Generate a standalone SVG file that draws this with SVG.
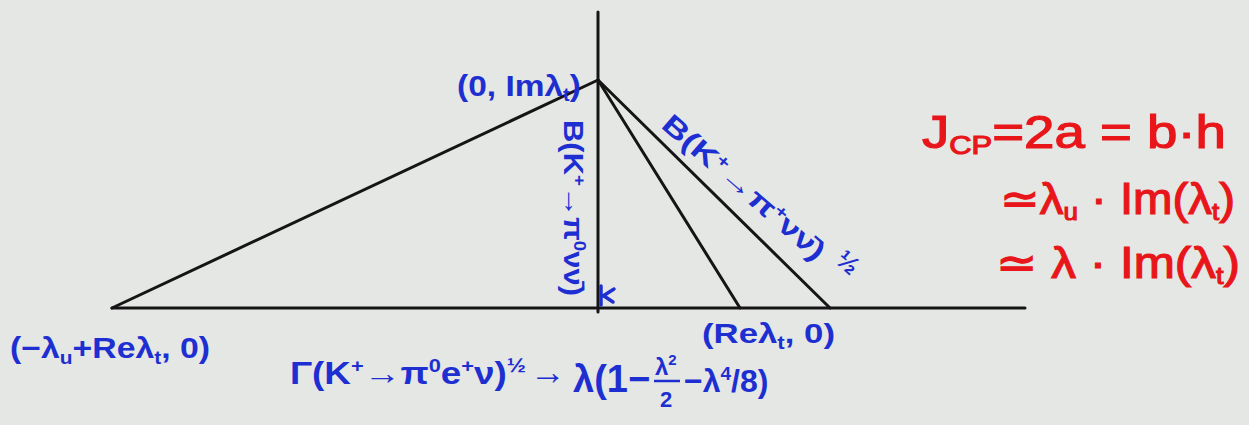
<svg xmlns="http://www.w3.org/2000/svg" width="1249" height="425" viewBox="0 0 1249 425">
<style>
.ln{stroke:#151515;stroke-width:3;fill:none;stroke-linecap:round}
.b{fill:#1e2fd2;font-family:"Liberation Sans",Arial,sans-serif;font-weight:bold}
.r{fill:#e8161a;stroke:#e8161a;stroke-width:1.2;font-family:"Liberation Sans",Arial,sans-serif}
</style>
<rect width="1249" height="425" fill="#e5e7e4"/>
<g id="axes">
<line class="ln" x1="598" y1="12" x2="598" y2="312"/>
<line class="ln" x1="112" y1="308" x2="1025" y2="308"/>
</g>
<g id="triangle">
<line class="ln" x1="598" y1="80" x2="112" y2="308"/>
<line class="ln" x1="598" y1="80" x2="740" y2="308"/>
<line class="ln" x1="598" y1="80" x2="830" y2="308"/>
</g>
<g id="angle-mark">
<path d="M601 286 L601 305 M603 296 L614 289 M604 296 L613 302" stroke="#1e2fd2" stroke-width="3.5" fill="none" stroke-linecap="round"/>
</g>
<g id="apex-label">
<text class="b" x="457" y="96" font-size="30" textLength="124" lengthAdjust="spacingAndGlyphs">(0, Imλ<tspan font-size="18" dy="5">t</tspan><tspan dy="-5">)</tspan></text>
</g>
<g id="left-label">
<text class="b" x="10" y="358" font-size="29" textLength="200" lengthAdjust="spacingAndGlyphs">(−λ<tspan font-size="18" dy="6">u</tspan><tspan dy="-6">+Reλ</tspan><tspan font-size="18" dy="6">t</tspan><tspan dy="-6">, 0)</tspan></text>
</g>
<g id="right-label">
<text class="b" x="702" y="343" font-size="28" textLength="133" lengthAdjust="spacingAndGlyphs">(Reλ<tspan font-size="18" dy="6">t</tspan><tspan dy="-6">, 0)</tspan></text>
</g>
<g id="vertical-label">
<text class="b" transform="translate(564,120) rotate(90)" x="0" y="0" font-size="28" textLength="176" lengthAdjust="spacingAndGlyphs">B(K<tspan font-size="17" dy="-10">+</tspan><tspan dy="10">→π</tspan><tspan font-size="17" dy="-10">0</tspan><tspan dy="10">νν̄)</tspan></text>
</g>
<g id="diagonal-label">
<text class="b" transform="translate(660,127) rotate(41)" x="0" y="0" font-size="28" textLength="206" lengthAdjust="spacingAndGlyphs">B(K<tspan font-size="17" dy="-10">+</tspan><tspan dy="10">→π</tspan><tspan font-size="17" dy="-10">+</tspan><tspan dy="10">νν̄)</tspan></text>
<text class="b" transform="translate(834,262) rotate(41)" x="0" y="0" font-size="26">½</text>
</g>
<g id="width-formula">
<text class="b" x="290" y="384" font-size="32" textLength="236" lengthAdjust="spacingAndGlyphs">Γ(K<tspan font-size="19" dy="-12">+</tspan><tspan dy="12">→π</tspan><tspan font-size="19" dy="-12">0</tspan><tspan dy="12">e</tspan><tspan font-size="19" dy="-12">+</tspan><tspan dy="12">ν)</tspan><tspan font-size="20" dy="-12">½</tspan></text>
<text class="b" x="530" y="384" font-size="36">→</text>
<text class="b" x="573" y="392" font-size="38">λ(1−</text>
<text class="b" x="655" y="375" font-size="24">λ<tspan font-size="15" dy="-10">2</tspan></text>
<line x1="654" y1="381" x2="680" y2="381" stroke="#1e2fd2" stroke-width="2.5"/>
<text class="b" x="660" y="407" font-size="22">2</text>
<text class="b" x="684" y="392" font-size="32">−λ<tspan font-size="19" dy="-12">4</tspan><tspan dy="12" font-size="32">/8)</tspan></text>
</g>
<g id="jcp-formula">
<text class="r" x="922" y="148" font-size="46" textLength="304" lengthAdjust="spacingAndGlyphs">J<tspan font-size="26" dy="6">CP</tspan><tspan dy="-6">=2a = b·h</tspan></text>
<text class="r" x="1000" y="214" font-size="44" textLength="235" lengthAdjust="spacingAndGlyphs">≃λ<tspan font-size="24" dy="6">u</tspan><tspan dy="-6"> · Im(λ</tspan><tspan font-size="24" dy="6">t</tspan><tspan dy="-6">)</tspan></text>
<text class="r" x="996" y="278" font-size="44" textLength="244" lengthAdjust="spacingAndGlyphs">≃ λ · Im(λ<tspan font-size="24" dy="6">t</tspan><tspan dy="-6">)</tspan></text>
</g>
</svg>
